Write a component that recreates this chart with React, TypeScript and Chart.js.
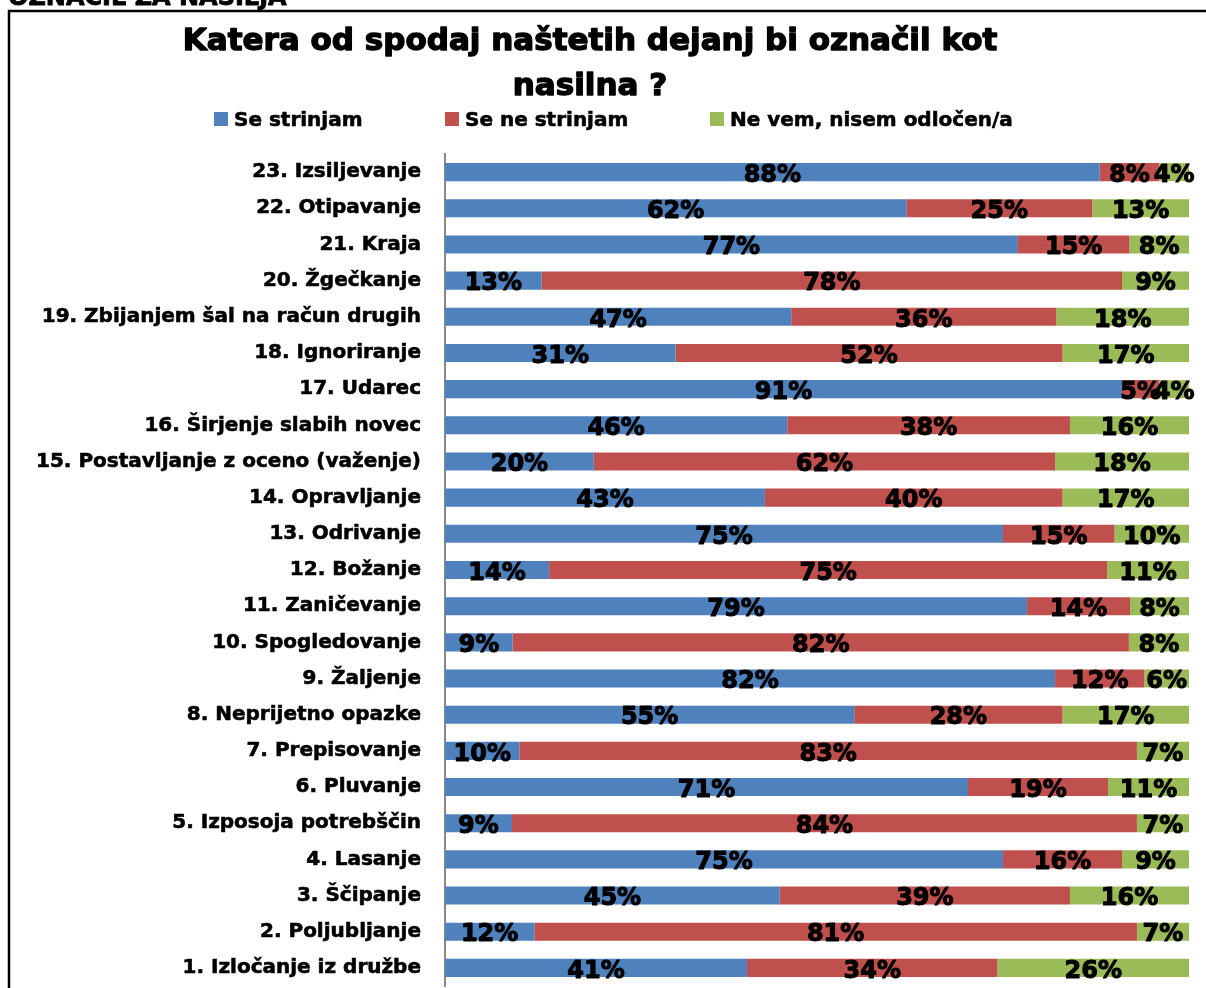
import React, { useEffect, useRef } from "react";
import { Chart, registerables } from "chart.js";

Chart.register(...registerables);

const FONT = '"DejaVu Sans", "Liberation Sans", sans-serif';

const titleLines = ["Katera od spodaj naštetih dejanj bi označil kot", "nasilna ?"];
const headerText = "OZNAČIL ZA NASILJA";
const seriesNames = ["Se strinjam", "Se ne strinjam", "Ne vem, nisem odločen/a"];
const seriesColors = ["#4F81BD", "#C0504D", "#9BBB59"];

const categories = [
  "23. Izsiljevanje",
  "22. Otipavanje",
  "21. Kraja",
  "20. Žgečkanje",
  "19. Zbijanjem šal na račun drugih",
  "18. Ignoriranje",
  "17. Udarec",
  "16. Širjenje slabih novec",
  "15. Postavljanje z oceno (važenje)",
  "14. Opravljanje",
  "13. Odrivanje",
  "12. Božanje",
  "11. Zaničevanje",
  "10. Spogledovanje",
  "9. Žaljenje",
  "8. Neprijetno opazke",
  "7. Prepisovanje",
  "6. Pluvanje",
  "5. Izposoja potrebščin",
  "4. Lasanje",
  "3. Ščipanje",
  "2. Poljubljanje",
  "1. Izločanje iz družbe",
];

const agree = [88, 62, 77, 13, 47, 31, 91, 46, 20, 43, 75, 14, 79, 9, 82, 55, 10, 71, 9, 75, 45, 12, 41];
const disagree = [8, 25, 15, 78, 36, 52, 5, 38, 62, 40, 15, 75, 14, 82, 12, 28, 83, 19, 84, 16, 39, 81, 34];
const undecided = [4, 13, 8, 9, 18, 17, 4, 16, 18, 17, 10, 11, 8, 8, 6, 17, 7, 11, 7, 9, 16, 7, 26];

const seriesValues = [agree, disagree, undecided];

function heavyText(ctx: CanvasRenderingContext2D, text: string, x: number, y: number, stroke: number) {
  ctx.lineWidth = stroke;
  ctx.lineJoin = "round";
  ctx.strokeText(text, x, y);
  ctx.fillText(text, x, y);
}

export default function App() {
  const ref = useRef<HTMLCanvasElement | null>(null);

  useEffect(() => {
    const canvas = ref.current;
    if (!canvas) return;

    const totals = categories.map((_, i) => agree[i] + disagree[i] + undecided[i]);
    const normalize = (arr: number[]) => arr.map((v, i) => (v / totals[i]) * 100);

    const decorPlugin = {
      id: "decor",
      afterDraw(chart: any) {
        const ctx = chart.ctx as CanvasRenderingContext2D;
        ctx.save();
        ctx.fillStyle = "#000";
        ctx.strokeStyle = "#000";
        // cut-off header text above the frame
        ctx.font = `bold 24px ${FONT}`;
        ctx.textAlign = "left";
        ctx.textBaseline = "alphabetic";
        heavyText(ctx, headerText, 8, 5, 0.8);

        // frame lines
        ctx.lineWidth = 2.5;
        ctx.beginPath();
        ctx.moveTo(8, 11);
        ctx.lineTo(1206, 11);
        ctx.moveTo(9, 10);
        ctx.lineTo(9, 988);
        ctx.stroke();

        // title
        ctx.font = `bold 31px ${FONT}`;
        ctx.textAlign = "center";
        heavyText(ctx, titleLines[0], 590, 50, 1.4);
        heavyText(ctx, titleLines[1], 590, 95, 1.4);

        // legend
        const boxX = [214, 445, 710];
        ctx.font = `bold 20px ${FONT}`;
        ctx.textAlign = "left";
        chart.data.datasets.forEach((ds: any, i: number) => {
          ctx.fillStyle = ds.backgroundColor;
          ctx.fillRect(boxX[i], 112, 14, 14);
          ctx.fillStyle = "#000";
          heavyText(ctx, ds.label, boxX[i] + 20, 126, 0.6);
        });
        ctx.restore();
      },
    };

    const labelPlugin = {
      id: "barLabels",
      afterDatasetsDraw(chart: any) {
        const ctx = chart.ctx as CanvasRenderingContext2D;
        ctx.save();
        ctx.fillStyle = "#000";
        ctx.strokeStyle = "#000";
        ctx.font = `bold 24px ${FONT}`;
        ctx.textAlign = "center";
        ctx.textBaseline = "middle";
        chart.data.datasets.forEach((_: any, di: number) => {
          const meta = chart.getDatasetMeta(di);
          meta.data.forEach((bar: any, i: number) => {
            const p = bar.getProps(["x", "y", "base"], true);
            heavyText(ctx, `${seriesValues[di][i]}%`, (p.x + p.base) / 2, p.y + 3.5, 1);
          });
        });
        ctx.restore();
      },
    };

    const chart = new Chart(canvas, {
      type: "bar",
      data: {
        labels: categories,
        datasets: seriesValues.map((vals, i) => ({
          label: seriesNames[i],
          data: normalize(vals),
          backgroundColor: seriesColors[i],
          borderWidth: 0,
          barPercentage: 0.5,
          categoryPercentage: 1,
        })),
      },
      options: {
        indexAxis: "y",
        animation: false,
        responsive: false,
        layout: { padding: { top: 154, right: 17, bottom: 2, left: 0 } },
        plugins: {
          legend: { display: false },
          title: { display: false },
          tooltip: { enabled: false },
        },
        scales: {
          x: {
            stacked: true,
            min: 0,
            max: 100,
            display: false,
          },
          y: {
            stacked: true,
            afterFit(scale: any) {
              scale.width = 445;
              scale.paddingTop = 0;
              scale.paddingBottom = 0;
            },
            grid: { display: false, drawTicks: false },
            border: { display: true, color: "#888888", width: 2 },
            ticks: {
              padding: 24,
              color: "#000",
              textStrokeColor: "#000",
              textStrokeWidth: 0.6,
              font: { family: FONT, size: 20, weight: "bold" },
            },
          },
        },
      },
      plugins: [labelPlugin, decorPlugin],
    } as any);

    return () => chart.destroy();
  }, []);

  return (
    <div style={{ position: "absolute", left: 0, top: 0, width: 1206, height: 988, background: "#fff" }}>
      <canvas ref={ref} width={1206} height={988} style={{ width: 1206, height: 988, display: "block" }} />
    </div>
  );
}
